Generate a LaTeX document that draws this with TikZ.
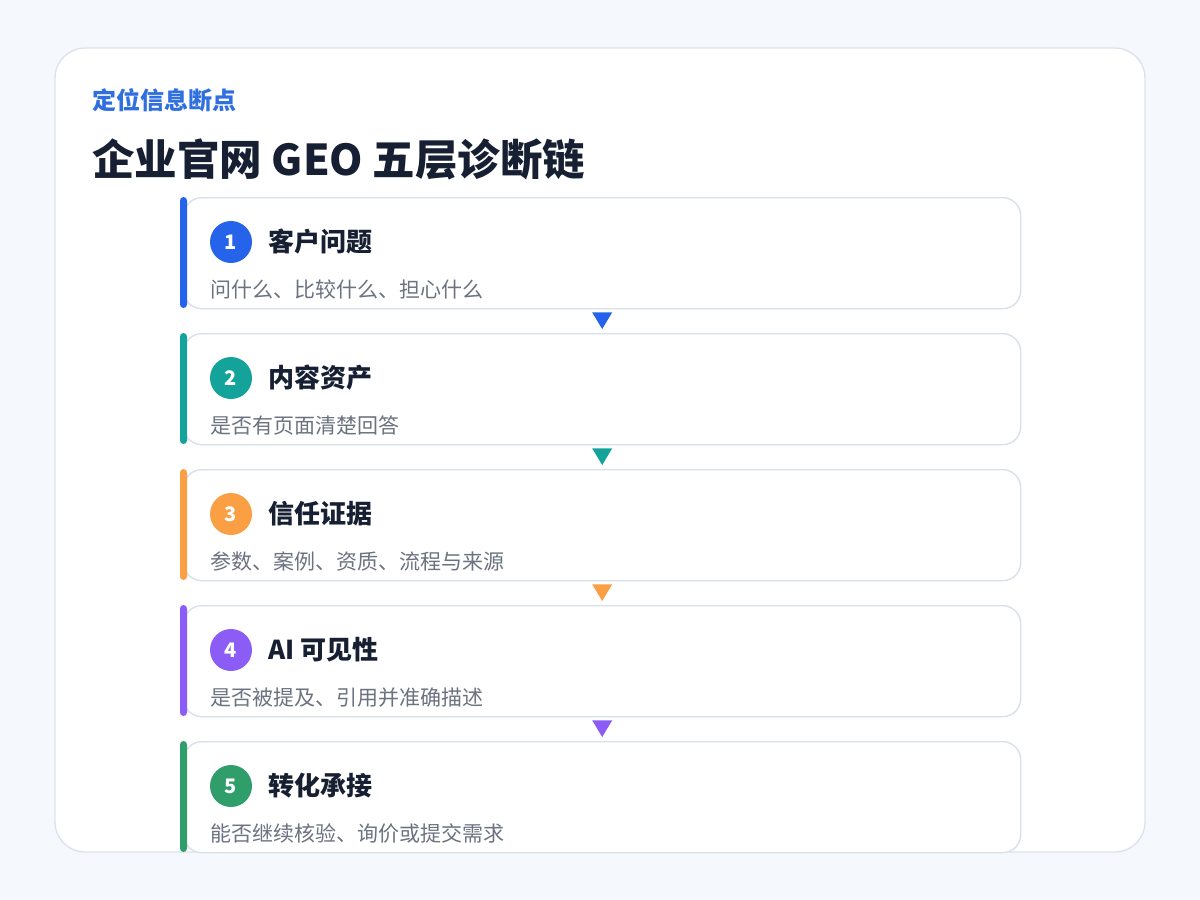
\documentclass[tikz,border=0pt]{standalone}
\usepackage{fontspec}
\setmainfont{Noto Sans CJK SC}
\usetikzlibrary{calc}
\definecolor{bg}{HTML}{F5F8FC}
\definecolor{outerline}{HTML}{DCE3EE}
\definecolor{cardline}{HTML}{D8E0EB}
\definecolor{ink}{HTML}{172033}
\definecolor{subink}{HTML}{6B7280}
\definecolor{kicker}{HTML}{2F6FE0}
\definecolor{cblue}{HTML}{2563EB}
\definecolor{cteal}{HTML}{14A39A}
\definecolor{corange}{HTML}{FB9F44}
\definecolor{cpurple}{HTML}{8B5CF6}
\definecolor{cgreen}{HTML}{2F9E6B}
\tikzset{
  card/.style={draw=cardline, line width=1.4pt, fill=white, rounded corners=18pt,
    minimum width=837pt, minimum height=111pt, anchor=north west, inner sep=0pt},
  numdot/.style={circle, fill=#1, minimum size=42pt, inner sep=0pt, text=white,
    font=\bfseries\fontsize{20}{20}\selectfont},
  cardtitle/.style={anchor=base west, inner sep=0pt, text=ink, font=\bfseries\fontsize{26}{30}\selectfont},
  cardsub/.style={anchor=base west, inner sep=0pt, text=subink, font=\fontsize{21}{25}\selectfont},
}
\begin{document}
\begin{tikzpicture}[x=1pt,y=-1pt]
\useasboundingbox (0,0) rectangle (1200,900);
\fill[bg] (0,0) rectangle (1200,900);
\draw[outerline, line width=1.4pt, fill=white, rounded corners=30pt] (55,48) rectangle (1145,852);
\node[anchor=base west, inner sep=0pt, text=kicker, font=\bfseries\fontsize{24}{28}\selectfont] (kick) at (92,109) {定位信息断点};
\node[anchor=base west, inner sep=0pt, text=ink, font=\bfseries\fontsize{42.5}{48}\selectfont] (title) at (92,175) {企业官网 GEO 五层诊断链};
\foreach \i/\col/\t/\s in {1/cblue/客户问题/问什么、比较什么、担心什么,
  2/cteal/内容资产/是否有页面清楚回答,
  3/corange/信任证据/参数、案例、资质、流程与来源,
  4/cpurple/AI 可见性/是否被提及、引用并准确描述,
  5/cgreen/转化承接/能否继续核验、询价或提交需求}{
  \pgfmathsetmacro{\top}{197+136*(\i-1)}
  \node[card] (c\i) at (183,\top) {};
  \fill[\col, rounded corners=3.5pt] (180,\top) rectangle (187,\top+111);
  \node[numdot=\col] (n\i) at (231,\top+45) {\i};
  \node[cardtitle] (t\i) at (268,\top+54) {\t};
  \node[cardsub] (s\i) at (210,\top+100) {\s};
}
\foreach \i/\j/\col in {1/2/cblue,2/3/cteal,3/4/corange,4/5/cpurple}{
  \fill[\col] ($(c\i.south)+(-10,3)$) -- ($(c\i.south)+(10,3)$) -- ($(c\j.north)+(0,-4)$) -- cycle;
}
\end{tikzpicture}
\end{document}
